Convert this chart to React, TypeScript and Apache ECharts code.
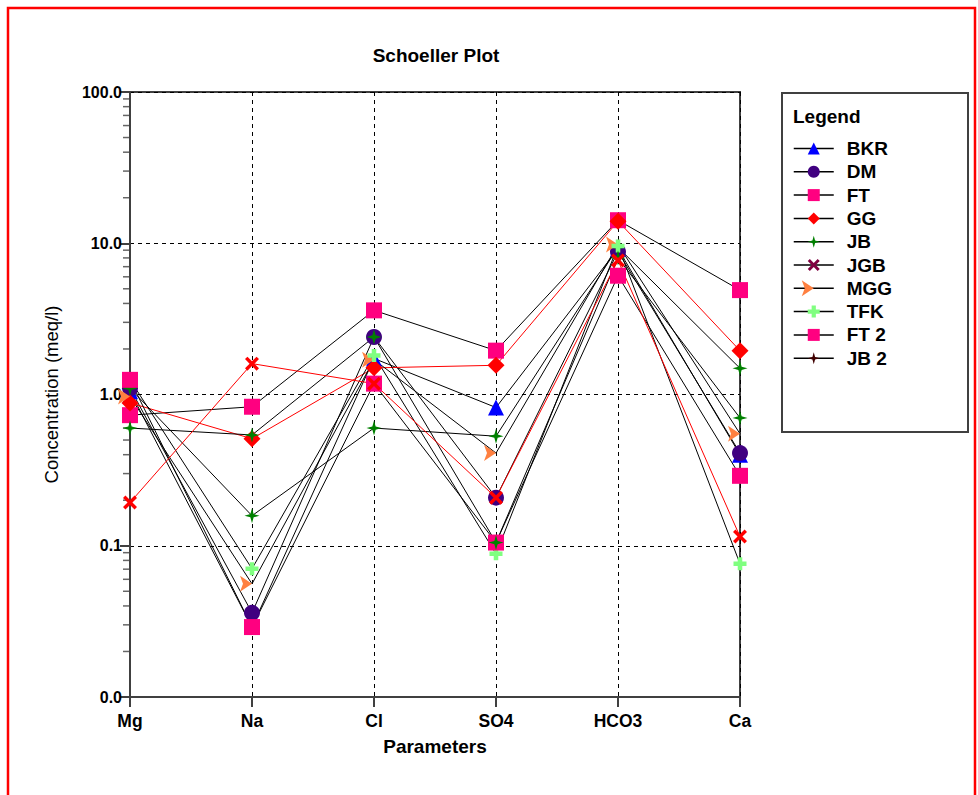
import React, { useEffect, useRef } from 'react';
import * as echarts from 'echarts';

const categories = ['Mg', 'Na', 'Cl', 'SO4', 'HCO3', 'Ca'];

const bkr = [1.05, 0.029, 1.73, 0.82, 9.2, 0.4];
const dm = [1.1, 0.036, 2.4, 0.208, 8.8, 0.41];
const ft = [0.73, 0.83, 3.6, 1.95, 14.2, 4.9];
const gg = [0.88, 0.51, 1.5, 1.56, 14.0, 1.95];
const jb = [1.1, 0.158, 0.6, 0.53, 9.4, 1.49];
const jgb: (number | null)[] = [];
const mgg = [0.97, 0.056, 1.7, 0.41, 9.8, 0.55];
const tfk = [1.25, 0.0705, 1.81, 0.0885, 9.6, 0.076];
const ft2 = [1.25, 0.029, 1.18, 0.105, 6.1, 0.29];
const jb2 = [0.6, 0.54, 2.4, 0.105, 8.0, 0.7];
const gg2 = [0.193, 1.6, 1.18, 0.208, 7.7, 0.115];

const legendNames = ['BKR', 'DM', 'FT', 'GG', 'JB', 'JGB', 'MGG', 'TFK', 'FT 2', 'JB 2'];

const minorTickValues = [
  0.02, 0.03, 0.04, 0.05, 0.06, 0.07, 0.08, 0.09,
  0.2, 0.3, 0.4, 0.5, 0.6, 0.7, 0.8, 0.9,
  2, 3, 4, 5, 6, 7, 8, 9,
  20, 30, 40, 50, 60, 70, 80, 90,
];

const FONT = "Arial, 'Liberation Sans', sans-serif";
const STAR = 'path://M0,-10 L2.2,-2.2 L10,0 L2.2,2.2 L0,10 L-2.2,2.2 L-10,0 L-2.2,-2.2 Z';
const XMARK = 'path://M-10,-6.5 L-6.5,-10 L0,-3.5 L6.5,-10 L10,-6.5 L3.5,0 L10,6.5 L6.5,10 L0,3.5 L-6.5,10 L-10,6.5 L-3.5,0 Z';
const CLUB = 'path://M-3.5,-10 L3.5,-10 L3.5,-3.5 L10,-3.5 L10,3.5 L3.5,3.5 L3.5,10 L-3.5,10 L-3.5,3.5 L-10,3.5 L-10,-3.5 L-3.5,-3.5 Z';

function mk(name: string, data: (number | null)[], color: string, symbol: string, size: number, lineColor: string, rotate = 0) {
  return {
    name,
    type: 'line',
    data,
    symbol,
    symbolSize: size,
    symbolRotate: rotate,
    showAllSymbol: true,
    itemStyle: { color },
    lineStyle: { color: lineColor, width: 1 },
    emphasis: { disabled: true },
    silent: true,
  };
}

const legendColors: Record<string, string> = {
  BKR: '#0000ff', DM: '#400080', FT: '#ff0080', GG: '#ff0000', JB: '#008000',
  JGB: '#800040', MGG: '#ff8040', TFK: '#80ff80', 'FT 2': '#ff0080', 'JB 2': '#400000',
};

export default function App() {
  const ref = useRef<HTMLDivElement>(null);
  useEffect(() => {
    if (!ref.current) return;
    const chart = echarts.init(ref.current, undefined, { renderer: 'svg' });
    const series: any[] = [
      mk('BKR', bkr, '#0000ff', 'triangle', 16, '#000'),
      mk('DM', dm, '#400080', 'circle', 16, '#000'),
      mk('FT', ft, '#ff0080', 'rect', 16, '#000'),
      mk('GG', gg, '#ff0000', 'diamond', 17, '#ff0000'),
      mk('JB', jb, '#008000', STAR, 15, '#000'),
      mk('JGB', jgb, '#800040', XMARK, 14, '#000'),
      mk('MGG', mgg, '#ff8040', 'arrow', 12, '#000', -90),
      mk('TFK', tfk, '#80ff80', CLUB, 13, '#000'),
      mk('FT 2', ft2, '#ff0080', 'rect', 16, '#000'),
      mk('JB 2', jb2, '#008000', STAR, 15, '#000'),
      mk('GG 2', gg2, '#ff0000', XMARK, 14, '#ff0000'),
      {
        name: 'minorTicks',
        type: 'scatter',
        silent: true,
        clip: false,
        data: minorTickValues.map((v) => ['Mg', v]),
        symbol: 'rect',
        symbolSize: [6, 1.5],
        symbolOffset: [-4, 0],
        itemStyle: { color: '#404040' },
        z: 1,
      },
    ];
    chart.setOption({
      animation: false,
      backgroundColor: '#ffffff',
      grid: { left: 130, top: 92, width: 610, height: 605, show: true, borderColor: '#404040', borderWidth: 2, backgroundColor: 'transparent' },
      xAxis: {
        type: 'category',
        data: categories,
        boundaryGap: false,
        name: 'Parameters',
        nameLocation: 'middle',
        nameGap: 40,
        nameTextStyle: { fontFamily: FONT, fontSize: 19, fontWeight: 'bold', color: '#000' },
        axisLine: { lineStyle: { color: '#404040', width: 2 } },
        axisTick: { show: true, length: 10, alignWithLabel: true, lineStyle: { color: '#404040', width: 2 } },
        axisLabel: { fontFamily: FONT, fontSize: 17.5, fontWeight: 'bold', color: '#000', margin: 15 },
        splitLine: { show: true, lineStyle: { color: '#000', type: [4, 4], width: 1 } },
      },
      yAxis: {
        type: 'log',
        logBase: 10,
        min: 0.01,
        max: 100,
        name: 'Concentration (meq/l)',
        nameLocation: 'middle',
        nameGap: 69,
        nameTextStyle: { fontFamily: FONT, fontSize: 18.5, color: '#000' },
        axisLine: { show: true, lineStyle: { color: '#404040', width: 2 } },
        axisTick: { show: true, length: 10, lineStyle: { color: '#404040', width: 2 } },
        axisLabel: {
          fontFamily: FONT, fontSize: 16, fontWeight: 'bold', color: '#000', margin: 8,
          formatter: (v: number) => v.toFixed(1),
        },
        splitLine: { show: true, lineStyle: { color: '#000', type: [4, 4], width: 1 } },
      },
      legend: {
        orient: 'vertical',
        left: 788,
        top: 134,
        itemWidth: 40,
        itemHeight: 15,
        itemGap: 4.3,
        selectedMode: false,
        data: legendNames.map((n) => ({
          name: n,
          itemStyle: { color: legendColors[n] },
          lineStyle: { color: '#000', width: 1.5 },
        })),
        textStyle: { fontFamily: FONT, fontSize: 19, fontWeight: 'bold', color: '#000', padding: [0, 0, 0, 8] },
      },
      graphic: [
        { type: 'rect', silent: true, shape: { x: 8, y: 8, width: 967, height: 900 }, style: { fill: 'none', stroke: '#ff0000', lineWidth: 2.5 }, z: 100 },
        { type: 'text', silent: true, x: 436, y: 55, style: { text: 'Schoeller Plot', font: `bold 19px ${FONT}`, fill: '#000', textAlign: 'center', textVerticalAlign: 'middle' } },
        { type: 'rect', silent: true, shape: { x: 782, y: 93, width: 186, height: 339 }, style: { fill: 'none', stroke: '#404040', lineWidth: 2 } },
        { type: 'text', silent: true, x: 793, y: 116, style: { text: 'Legend', font: `bold 19px ${FONT}`, fill: '#000', textAlign: 'left', textVerticalAlign: 'middle' } },
      ],
      series,
    });
    return () => chart.dispose();
  }, []);
  return <div ref={ref} style={{ position: 'absolute', left: 0, top: 0, width: 978, height: 795 }} />;
}
